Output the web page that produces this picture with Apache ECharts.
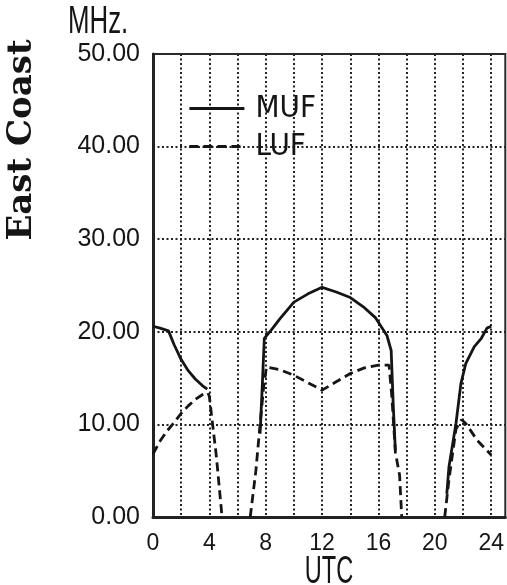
<!DOCTYPE html>
<html><head><meta charset="utf-8">
<script src="https://cdn.jsdelivr.net/npm/echarts@6/dist/echarts.min.js"></script>
<style>html,body{margin:0;padding:0;background:#fff}#c{width:507px;height:585px}</style>
</head><body><div id="c"></div>
<script>
// Tick labels
const xTickLabels = [0, 4, 8, 12, 16, 20, 24];
const yTickLabels = [0, 10, 20, 30, 40, 50];
const seriesNames = ['MUF', 'LUF'];
// MUF (solid) segments [UTC hour, MHz]
const mufSeg1 = [[0,20.6],[0.5,20.4],[1.1,20.1],[1.5,18.6],[2,17.0],[2.5,15.8],[3,14.9],[3.5,14.2],[3.85,13.8]];
const mufSeg2 = [[7.6,9],[7.75,14],[7.9,19.3],[8.4,20.2],[9,21.4],[10,23.2],[11,24.1],[12,24.8],[13,24.3],[14,23.7],[15,22.6],[15.8,21.5],[16.6,19.6],[16.9,18.0],[17.05,12],[17.2,7.2]];
const mufSeg3 = [[20.85,2.5],[21.0,5.4],[21.5,10.1],[21.85,14.4],[22.2,16.6],[22.8,18.4],[23.3,19.3],[23.7,20.4],[24,20.6]];
// LUF (dashed) segments
const lufSeg1 = [[0,6.8],[0.5,8.2],[1,9.3],[1.5,10.2],[2,11.2],[2.5,12.0],[3,12.7],[3.5,13.2],[3.9,13.4],[4.0,13.0],[4.5,6.5],[4.9,0]];
const lufSeg2 = [[6.9,0],[7.3,5],[7.6,10],[7.85,14],[8.05,16.2],[9,15.9],[10,15.3],[11,14.5],[12,13.7],[13,14.6],[14,15.5],[15,16.1],[16,16.4],[16.75,16.4],[16.95,13],[17.2,7],[17.5,4.5],[17.65,0]];
const lufSeg3 = [[20.7,0],[21.0,4],[21.5,9.5],[21.9,10.5],[22.2,10.1],[23,8.3],[24,6.7]];

const chart = echarts.init(document.getElementById('c'), null, {renderer: 'canvas'});
const ink = '#151515';
const dotted = {show: true, showMinLine: false, showMaxLine: false, lineStyle: {color: '#222', width: 2, type: [2, 2.5]}};
function mk(name, data, dashed) {
  return {
    name: name, type: 'line', data: data, symbol: 'none', showSymbol: false,
    z: dashed ? 4 : 3, animation: false,
    lineStyle: {color: ink, width: 2.8, type: dashed ? [9, 5] : 'solid'},
    itemStyle: {color: ink}
  };
}
const narrow = '"Liberation Sans Narrow", "DejaVu Sans Condensed", "Liberation Sans", Arial, sans-serif';
chart.setOption({
  backgroundColor: '#fff',
  animation: false,
  grid: {left: 153, right: -4, top: 54, bottom: 68, show: true, borderColor: '#2a2a2a', borderWidth: 2},
  legend: {
    data: seriesNames, orient: 'vertical', left: 188, top: 93, padding: 0,
    itemWidth: 55, itemHeight: 14, itemGap: 7,
    itemStyle: {opacity: 0},
    lineStyle: {width: 2.8},
    textStyle: {fontFamily: narrow, fontSize: 31, color: ink, padding: [0, 0, 0, 6]}
  },
  xAxis: {
    type: 'value', min: 0, max: 25, interval: 2,
    axisLine: {show: true, onZero: false, lineStyle: {color: '#222', width: 3}},
    axisTick: {show: false},
    splitLine: dotted,
    axisLabel: {
      formatter: v => xTickLabels.includes(v) ? String(v) : '',
      fontFamily: '"Liberation Sans", Arial, sans-serif', fontSize: 23, color: ink, margin: 15,
      showMaxLabel: false
    }
  },
  yAxis: {
    type: 'value', min: 0, max: 50, interval: 10,
    axisLine: {show: true, onZero: false, lineStyle: {color: '#222', width: 3}},
    axisTick: {show: false},
    splitLine: dotted,
    axisLabel: {
      formatter: v => yTickLabels.includes(v) ? v.toFixed(2) : '',
      fontFamily: '"Liberation Sans", Arial, sans-serif', fontSize: 25, color: ink, margin: 13
    }
  },
  graphic: [
    {type: 'text', x: 68, y: 4, scaleX: 0.68, style: {text: 'MHz.', font: '38px "Liberation Sans", Arial, sans-serif', fill: ink, textAlign: 'left', textVerticalAlign: 'top'}},
    {type: 'text', x: 329, y: 554, scaleX: 0.62, style: {text: 'UTC', font: '38px "Liberation Sans", Arial, sans-serif', fill: ink, textAlign: 'center', textVerticalAlign: 'top'}},
    {type: 'text', x: 22, y: 140, rotation: Math.PI / 2, style: {text: 'East Coast', font: 'bold 34px "DejaVu Serif", serif', fill: ink, textAlign: 'center', textVerticalAlign: 'middle'}}
  ],
  series: [
    mk('MUF', mufSeg1, false), mk('MUF', mufSeg2, false), mk('MUF', mufSeg3, false),
    mk('LUF', lufSeg1, true), mk('LUF', lufSeg2, true), mk('LUF', lufSeg3, true)
  ]
});
</script></body></html>
